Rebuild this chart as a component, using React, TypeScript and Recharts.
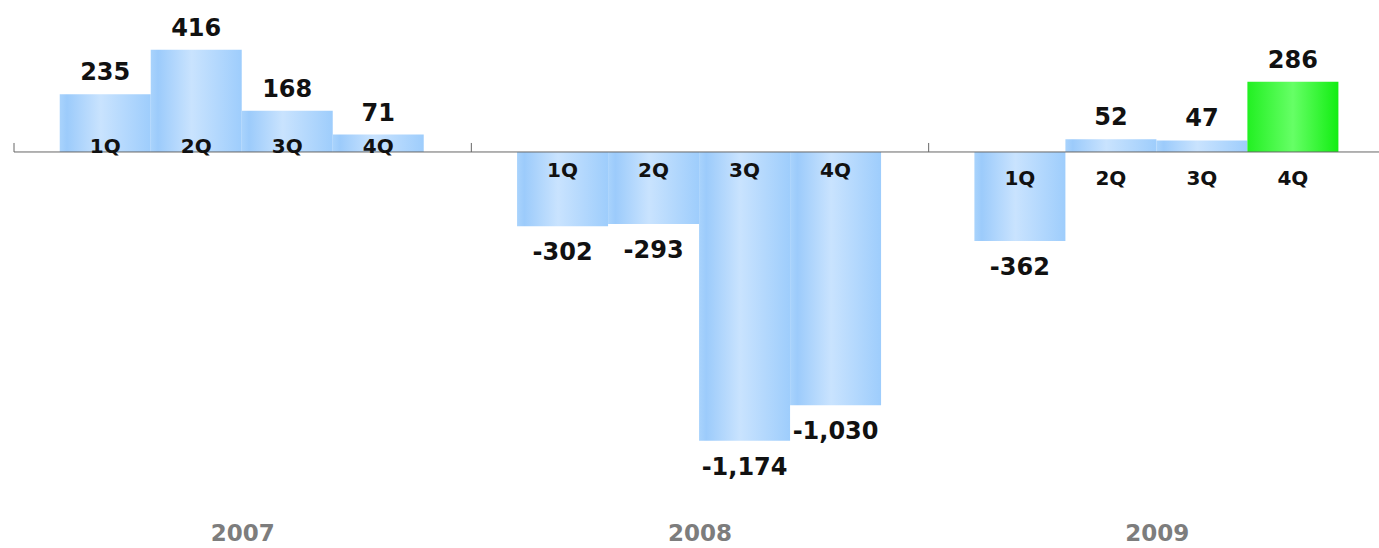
import { Bar, BarChart, Cell, LabelList, ReferenceLine, XAxis, YAxis } from "recharts";

const years = ["2007", "2008", "2009"];
const quarters = ["1Q", "2Q", "3Q", "4Q"];
const q1Values = [235, -302, -362];
const q2Values = [416, -293, 52];
const q3Values = [168, -1174, 47];
const q4Values = [71, -1030, 286];
const highlight = { year: "2009", quarter: "4Q" };
const yDomain: [number, number] = [-1480, 500];

const seriesValues = [q1Values, q2Values, q3Values, q4Values];
const data = years.map((year, i) => {
  const row: Record<string, string | number> = { year };
  quarters.forEach((q, k) => {
    row[q] = seriesValues[k][i];
  });
  return row;
});

// layout
const W = 1400;
const H = 548;
const margin = { top: 29, right: 14, bottom: 0, left: 14 };
const xAxisHeight = 32;
const plotH = H - margin.top - margin.bottom - xAxisHeight;
const zeroY = margin.top + (yDomain[1] / (yDomain[1] - yDomain[0])) * plotH;
// quarter label vertical offset from the zero line, per year group
const quarterLabelDy: Record<string, number> = { "2007": -6, "2008": 18, "2009": 26 };
const font = "'DejaVu Sans', Verdana, sans-serif";

const ValueLabel = (props: any) => {
  const x = Number(props.x);
  const y = Number(props.y);
  const w = Number(props.width);
  const h = Number(props.height);
  const v = Number(props.value);
  const top = Math.min(y, y + h);
  const bottom = Math.max(y, y + h);
  const ty = v >= 0 ? top - 14 : bottom + 34;
  return (
    <text x={x + w / 2} y={ty} textAnchor="middle" fontSize={24} fontWeight="bold" fill="#111" fontFamily={font}>
      {v.toLocaleString("en-US")}
    </text>
  );
};

const quarterLabel = (q: string) => (props: any) => {
  const x = Number(props.x);
  const w = Number(props.width);
  const dy = quarterLabelDy[String(props.value)] ?? 0;
  return (
    <text x={x + w / 2} y={zeroY + dy + 7} textAnchor="middle" fontSize={20} fontWeight="bold" fill="#111" fontFamily={font}>
      {q}
    </text>
  );
};

const YearTick = (props: any) => {
  const { x, payload } = props;
  return (
    <text x={x} y={H - 7} textAnchor="middle" fontSize={23} fontWeight="bold" fill="#7d7d7d" fontFamily={font}>
      {payload.value}
    </text>
  );
};

// zero line with small upward tick marks at each year-band boundary
const ZeroAxis = (props: any) => {
  const x1 = Number(props.x1);
  const x2 = Number(props.x2);
  const y = Number(props.y1);
  const n = years.length;
  const step = (x2 - x1) / n;
  return (
    <g>
      <line x1={x1} y1={y} x2={x2} y2={y} stroke="#666" strokeWidth={1} />
      {Array.from({ length: n + 1 }, (_, i) => (
        <line key={i} x1={x1 + i * step} y1={y} x2={x1 + i * step} y2={y - 9} stroke="#666" strokeWidth={1} />
      ))}
    </g>
  );
};

export default function App() {
  return (
    <div style={{ position: "absolute", left: 0, top: 0, width: 1379, height: H, overflow: "hidden", background: "#fff", fontFamily: font }}>
      <BarChart width={W} height={H} data={data} margin={margin} barCategoryGap="10%" barGap={0}>
        <defs>
          <linearGradient id="blueGrad" x1="0" y1="0" x2="1" y2="0">
            <stop offset="0%" stopColor="#a9d3fc" />
            <stop offset="8%" stopColor="#9ccbfb" />
            <stop offset="45%" stopColor="#c9e3fe" />
            <stop offset="100%" stopColor="#9ecdfc" />
          </linearGradient>
          <linearGradient id="greenGrad" x1="0" y1="0" x2="1" y2="0">
            <stop offset="0%" stopColor="#22f022" />
            <stop offset="50%" stopColor="#66ff66" />
            <stop offset="100%" stopColor="#12ee12" />
          </linearGradient>
        </defs>
        <XAxis dataKey="year" axisLine={false} tickLine={false} height={xAxisHeight} tick={<YearTick />} interval={0} />
        <YAxis hide domain={yDomain} allowDataOverflow />
        {quarters.map((q) => (
          <Bar key={q} dataKey={q} isAnimationActive={false} fill="url(#blueGrad)">
            {data.map((d) => (
              <Cell
                key={String(d.year)}
                fill={d.year === highlight.year && q === highlight.quarter ? "url(#greenGrad)" : "url(#blueGrad)"}
              />
            ))}
            <LabelList dataKey={q} content={ValueLabel} />
            <LabelList dataKey="year" content={quarterLabel(q)} />
          </Bar>
        ))}
        <ReferenceLine y={0} stroke="#666" strokeWidth={1} shape={ZeroAxis} />
      </BarChart>
    </div>
  );
}
